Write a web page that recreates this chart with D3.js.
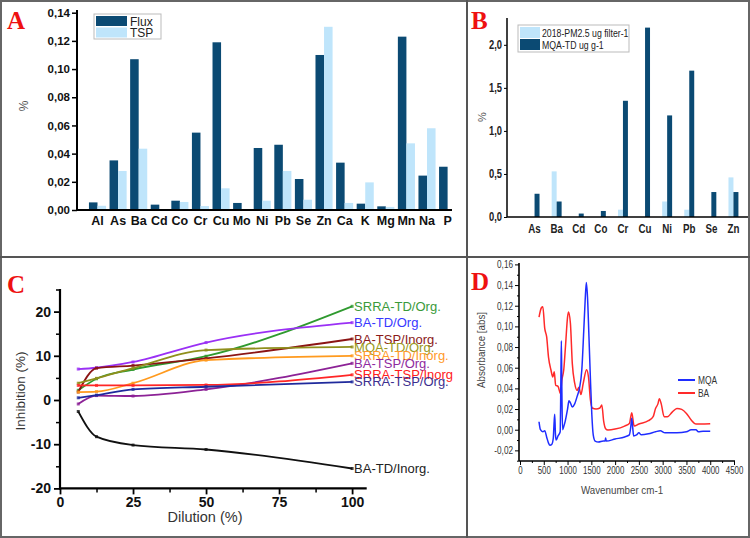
<!DOCTYPE html>
<html><head><meta charset="utf-8">
<script src="https://cdn.jsdelivr.net/npm/d3@7"></script>
<style>body{margin:0;background:#fff}svg{display:block}</style>
</head><body>
<svg id="c" width="750" height="538"></svg>
<script>
// ---------- Panel A data ----------
const catsA = ["Al","As","Ba","Cd","Co","Cr","Cu","Mo","Ni","Pb","Se","Zn","Ca","K","Mg","Mn","Na","P"];
const fluxA = [0.0054,0.0352,0.107,0.0038,0.0066,0.0549,0.119,0.005,0.044,0.0463,0.022,0.110,0.0336,0.0045,0.0026,0.123,0.0244,0.0307];
const tspA  = [0.003,0.0277,0.0435,0,0.0057,0.0028,0.0154,0,0.0066,0.0277,0.0073,0.130,0.005,0.0196,0.0022,0.0473,0.058,0];
const ticksA = [0,0.02,0.04,0.06,0.08,0.10,0.12,0.14];
const legendA = ["Flux","TSP"];
// ---------- Panel B data ----------
const catsB = ["As","Ba","Cd","Co","Cr","Cu","Ni","Pb","Se","Zn"];
const pm25B = [0,0.53,0,0,0.085,0,0.18,0.085,0,0.46];
const mqaB  = [0.27,0.18,0.04,0.07,1.35,2.2,1.18,1.70,0.29,0.29];
const ticksB = [0,0.5,1.0,1.5,2.0];
const legendB = ["2018-PM2.5 ug filter-1","MQA-TD ug g-1"];
// ---------- Panel C data ----------
const dilution = [6.25,12.5,25,50,100];
const seriesNamesC = ["SRRA-TD/Org.","BA-TD/Org.","BA-TSP/Inorg.","MQA-TD/Org.","SRRA-TD/Inorg.","BA-TSP/Org.","SRRA-TSP/Inorg","SRRA-TSP/Org.","BA-TD/Inorg."];
const srraTdOrg   = [2.2,4.8,6.9,9.9,21.2];
const baTdOrg     = [7.0,7.3,8.6,13.0,17.5];
const baTspInorg  = [1.8,7.2,7.8,9.4,13.8];
const mqaTdOrg    = [3.8,4.9,7.2,11.3,12.0];
const srraTdInorg = [1.8,1.9,3.8,9.0,10.0];
const baTspOrg    = [-0.9,1.0,0.9,2.4,8.3];
const srraTspInorg= [3.3,3.3,3.3,3.4,5.7];
const srraTspOrg  = [0.5,1.1,2.4,3.0,4.1];
const baTdInorg   = [-2.6,-8.3,-10.2,-11.2,-15.5];
const ticksCx = [0,25,50,75,100];
const ticksCy = [-20,-10,0,10,20];
// ---------- Panel D data ----------
const wnMQA = [400,430,480,520,560,600,630,670,700,715,730,745,760,800,845,860,870,880,895,920,950,1000,1030,1060,1100,1150,1200,1250,1300,1340,1370,1395,1420,1450,1480,1510,1540,1580,1650,1750,1790,1800,1815,2000,2200,2300,2330,2350,2370,2390,2450,2500,2550,2700,2850,2950,3050,3300,3500,3600,3700,3750,3850,4000];
const absMQA = [0.0077,0.000,-0.002,-0.001,-0.007,-0.013,-0.015,-0.014,-0.008,0.005,0.015,-0.004,-0.010,-0.006,-0.002,0.050,0.086,0.040,0.000,0.003,0.008,0.020,0.028,0.026,0.022,0.025,0.032,0.040,0.058,0.095,0.125,0.1426,0.128,0.090,0.050,0.015,-0.005,-0.011,-0.012,-0.011,-0.011,-0.008,-0.011,-0.009,-0.007,-0.005,0.003,0.011,0.002,-0.006,-0.005,-0.003,-0.005,-0.004,-0.002,-0.001,-0.003,-0.003,-0.002,0.000,0.000,-0.002,-0.0015,-0.0015];
const wnBA = [400,450,480,520,560,600,650,690,720,750,800,850,880,920,960,1000,1020,1060,1100,1150,1200,1240,1280,1330,1400,1440,1480,1520,1600,1680,1720,1760,1800,1850,2000,2200,2300,2350,2400,2500,2700,2800,2850,2900,2930,2970,3030,3100,3200,3300,3400,3500,3600,3700,3800,4000];
const absBA = [0.109,0.118,0.119,0.098,0.090,0.070,0.058,0.051,0.056,0.043,0.042,0.035,0.048,0.058,0.083,0.109,0.114,0.103,0.064,0.045,0.038,0.041,0.034,0.045,0.058,0.051,0.029,0.021,0.020,0.021,0.024,0.008,0.001,-0.0003,0.0006,0.0035,0.006,0.0165,0.0035,0.0055,0.0087,0.0126,0.0206,0.025,0.030,0.025,0.0126,0.0126,0.017,0.0206,0.0197,0.0158,0.0094,0.0055,0.0055,0.0058];
const ticksDx = [0,500,1000,1500,2000,2500,3000,3500,4000,4500];
const ticksDy = [-0.02,0,0.02,0.04,0.06,0.08,0.10,0.12,0.14,0.16];
const legendD = ["MQA","BA"];

const comma = f => v => d3.format(f)(v).replace(".", ",").replace("\u2212","-");
const svg = d3.select("#c");
svg.append("rect").attr("width",750).attr("height",538).attr("fill","#fff");

const DARK = "#0b4a73", LIGHT = "#bfe5fb";
const SANS = "Arial, 'Liberation Sans', sans-serif";
function condense(sel, f){
  sel.each(function(){
    const L = this.getComputedTextLength();
    if (L > 0) d3.select(this).attr("textLength", L*f).attr("lengthAdjust","spacingAndGlyphs");
  });
}

// =============== PANEL A ===============
{
  const g = svg.append("g");
  const x = d3.scaleBand().domain(catsA).range([87.2,457.9]).paddingInner(0.17).paddingOuter(0.085);
  const xi = d3.scaleBand().domain(["f","t"]).range([0,x.bandwidth()]);
  const y = d3.scaleLinear().domain([0,0.14]).range([210,12.7]);
  const rows = catsA.map((c,i)=>({c,f:fluxA[i],t:tspA[i]}));
  g.selectAll(".bf").data(rows).join("rect").attr("x",d=>x(d.c)+xi("f")).attr("width",xi.bandwidth())
    .attr("y",d=>y(d.f)).attr("height",d=>y(0)-y(d.f)).attr("fill",DARK);
  g.selectAll(".bt").data(rows).join("rect").attr("x",d=>x(d.c)+xi("t")).attr("width",xi.bandwidth())
    .attr("y",d=>y(d.t)).attr("height",d=>y(0)-y(d.t)).attr("fill",LIGHT);
  const ya = g.append("g").attr("transform","translate(77,0)")
    .call(d3.axisLeft(y).tickValues(ticksA).tickFormat(comma(".2f")).tickSize(5).tickPadding(2));
  ya.select(".domain").attr("stroke-width",2).attr("d","M0,210V10");
  ya.selectAll(".tick line").attr("stroke-width",1.5);
  ya.selectAll("text").attr("font-family",SANS).attr("font-weight","bold").attr("font-size",11.5).attr("fill","#111");
  const xa = g.append("g").attr("transform","translate(0,210)").call(d3.axisBottom(x).tickSize(0).tickPadding(6));
  xa.select(".domain").remove();
  xa.selectAll("text").attr("font-family",SANS).attr("font-weight","bold").attr("font-size",12.5).attr("fill","#111");
  g.append("line").attr("x1",77).attr("x2",452).attr("y1",210).attr("y2",210).attr("stroke","#000").attr("stroke-width",2);
  g.append("text").attr("transform","translate(28,106) rotate(-90)").attr("text-anchor","middle")
    .attr("font-family",SANS).attr("font-size",12).attr("fill","#555").text("%");
  const lg = g.append("g");
  lg.append("rect").attr("x",94).attr("y",14).attr("width",67).attr("height",25).attr("fill","#fff").attr("stroke","#bbb");
  [DARK,LIGHT].forEach((col,i)=>{
    lg.append("rect").attr("x",96).attr("y",16+i*11.5).attr("width",31).attr("height",10).attr("fill",col);
    lg.append("text").attr("x",130).attr("y",25.5+i*11.5).attr("font-family",SANS).attr("font-size",12).attr("fill","#222").text(legendA[i]);
  });
  g.append("text").attr("x",7).attr("y",29).attr("font-family","'Liberation Serif','Times New Roman',serif").attr("font-weight","bold").attr("font-size",25).attr("fill","#ee1111").text("A");
}

// =============== PANEL B ===============
{
  const g = svg.append("g");
  const x = d3.scaleBand().domain(catsB).range([523.5,744.5]).paddingInner(0.55).paddingOuter(0.275);
  const xi = d3.scaleBand().domain(["p","m"]).range([0,x.bandwidth()]);
  const y = d3.scaleLinear().domain([0,2.3]).range([217,19]);
  const rows = catsB.map((c,i)=>({c,p:pm25B[i],m:mqaB[i]}));
  g.selectAll(".bp").data(rows).join("rect").attr("x",d=>x(d.c)+xi("p")).attr("width",xi.bandwidth())
    .attr("y",d=>y(d.p)).attr("height",d=>y(0)-y(d.p)).attr("fill",LIGHT);
  g.selectAll(".bm").data(rows).join("rect").attr("x",d=>x(d.c)+xi("m")).attr("width",xi.bandwidth())
    .attr("y",d=>y(d.m)).attr("height",d=>y(0)-y(d.m)).attr("fill",DARK);
  const ya = g.append("g").attr("transform","translate(507,0)")
    .call(d3.axisLeft(y).tickValues(ticksB).tickFormat(comma(".1f")).tickSize(3).tickPadding(2));
  ya.select(".domain").attr("stroke-width",1.5).attr("d","M0,217V18");
  ya.selectAll("text").attr("font-family",SANS).attr("font-weight","bold").attr("font-size",12).attr("fill","#222");
  condense(ya.selectAll("text"), 0.78);
  const xa = g.append("g").attr("transform","translate(0,217)").call(d3.axisBottom(x).tickSize(0).tickPadding(7));
  xa.select(".domain").remove();
  xa.selectAll("text").attr("font-family",SANS).attr("font-weight","bold").attr("font-size",12.5).attr("fill","#222");
  condense(xa.selectAll("text"), 0.78);
  g.append("line").attr("x1",507).attr("x2",750).attr("y1",217).attr("y2",217).attr("stroke","#000").attr("stroke-width",1.5);
  g.append("text").attr("transform","translate(486,117) rotate(-90)").attr("text-anchor","middle")
    .attr("font-family",SANS).attr("font-size",11).attr("fill","#555").text("%");
  const lg = g.append("g");
  lg.append("rect").attr("x",518).attr("y",25).attr("width",111).attr("height",27).attr("fill","#fff").attr("stroke","#bbb");
  [LIGHT,DARK].forEach((col,i)=>{
    lg.append("rect").attr("x",520).attr("y",27+i*12).attr("width",20).attr("height",11).attr("fill",col);
    const t = lg.append("text").attr("x",542).attr("y",37+i*12).attr("font-family",SANS).attr("font-size",11.5).attr("fill","#222").text(legendB[i]);
    condense(t, 0.76);
  });
  g.append("text").attr("x",471).attr("y",29).attr("font-family","'Liberation Serif','Times New Roman',serif").attr("font-weight","bold").attr("font-size",25).attr("fill","#ee1111").text("B");
}

// =============== PANEL C ===============
{
  const g = svg.append("g");
  const x = d3.scaleLinear().domain([0,105]).range([60,366.7]);
  const y = d3.scaleLinear().domain([-20,25]).range([488.4,289.5]);
  const vals = [srraTdOrg,baTdOrg,baTspInorg,mqaTdOrg,srraTdInorg,baTspOrg,srraTspInorg,srraTspOrg,baTdInorg];
  const lineCols  = ["#2f9a2f","#9a30f5","#8b1414","#8f8f1c","#ff9a1e","#8c2296","#ff2626","#1f2a9c","#111111"];
  const labelCols = ["#3a9a3a","#3838ff","#8b1a1a","#9a9a22","#ff9a2a","#8f2aa0","#ff2020","#3c2f8f","#222222"];
  const line = d3.line().x((d,i)=>x(dilution[i])).y(d=>y(d)).curve(d3.curveMonotoneX);
  const yminor = g.append("g").attr("transform","translate(60,0)").call(d3.axisLeft(y).tickValues([-15,-5,5,15,25]).tickSize(4).tickFormat(""));
  yminor.select(".domain").remove(); yminor.selectAll("line").attr("stroke-width",1.5);
  const xminor = g.append("g").attr("transform","translate(0,488.4)").call(d3.axisBottom(x).tickValues([12.5,37.5,62.5,87.5]).tickSize(4).tickFormat(""));
  xminor.select(".domain").remove(); xminor.selectAll("line").attr("stroke-width",1.5);
  const ya = g.append("g").attr("transform","translate(60,0)").call(d3.axisLeft(y).tickValues(ticksCy).tickSize(6).tickPadding(3));
  ya.select(".domain").attr("stroke-width",2.2).attr("d","M0,489.5V289");
  ya.selectAll(".tick line").attr("stroke-width",1.8);
  ya.selectAll("text").attr("font-family",SANS).attr("font-weight","bold").attr("font-size",14).attr("fill","#111").text(d=>d3.format("d")(d).replace("\u2212","-"));
  const xa = g.append("g").attr("transform","translate(0,488.4)").call(d3.axisBottom(x).tickValues(ticksCx).tickSize(6).tickPadding(3));
  xa.select(".domain").attr("stroke-width",2.2).attr("d","M59,0H366.7");
  xa.selectAll(".tick line").attr("stroke-width",1.8);
  xa.selectAll("text").attr("font-family",SANS).attr("font-weight","bold").attr("font-size",14).attr("fill","#111");
  vals.forEach((v,k)=>{
    g.append("path").datum(v).attr("d",line).attr("fill","none").attr("stroke",lineCols[k]).attr("stroke-width",1.8);
    g.selectAll(null).data(v).join("rect").attr("x",(d,i)=>x(dilution[i])-1.5).attr("y",d=>y(d)-1.5)
      .attr("width",3).attr("height",3).attr("fill",lineCols[k]).attr("opacity",0.8);
  });
  vals.forEach((v,k)=>{
    g.append("text").attr("x",x(100)+2).attr("y",y(v[v.length-1])).attr("dy","0.35em")
      .attr("font-family",SANS).attr("font-size",13).attr("fill",labelCols[k]).text(seriesNamesC[k]);
  });
  g.append("text").attr("transform","translate(25,391) rotate(-90)").attr("text-anchor","middle")
    .attr("font-family",SANS).attr("font-size",13.5).attr("fill","#333").text("Inhibition (%)");
  g.append("text").attr("x",205).attr("y",522).attr("text-anchor","middle")
    .attr("font-family",SANS).attr("font-size",14.5).attr("fill","#333").text("Dilution (%)");
  g.append("text").attr("x",7).attr("y",293).attr("font-family","'Liberation Serif','Times New Roman',serif").attr("font-weight","bold").attr("font-size",25).attr("fill","#ee1111").text("C");
}

// =============== PANEL D ===============
{
  const g = svg.append("g");
  const x = d3.scaleLinear().domain([0,4500]).range([520,734]);
  const y = d3.scaleLinear().domain([-0.03,0.16]).range([460.7,264.4]);
  const ymin = g.append("g").attr("transform","translate(519,0)").call(d3.axisLeft(y).tickValues(d3.range(-0.03,0.165,0.02)).tickSize(2).tickFormat(""));
  ymin.select(".domain").remove();
  const xmin = g.append("g").attr("transform","translate(0,461)").call(d3.axisBottom(x).tickValues(d3.range(250,4500,500)).tickSize(2).tickFormat(""));
  xmin.select(".domain").remove();
  const ya = g.append("g").attr("transform","translate(519,0)").call(d3.axisLeft(y).tickValues(ticksDy).tickFormat(comma(".2f")).tickSize(4).tickPadding(2));
  ya.select(".domain").attr("stroke-width",1.6).attr("d","M0,461V263");
  ya.selectAll("text").attr("font-family",SANS).attr("font-size",10.5).attr("fill","#333");
  condense(ya.selectAll("text"), 0.78);
  const xa = g.append("g").attr("transform","translate(0,461)").call(d3.axisBottom(x).tickValues(ticksDx).tickFormat(d3.format("d")).tickSize(4).tickPadding(2));
  xa.select(".domain").attr("stroke-width",1.6).attr("d","M519,0H735");
  xa.selectAll("text").attr("font-family",SANS).attr("font-size",10.5).attr("fill","#333");
  condense(xa.selectAll("text"), 0.75);
  const mk = (wn,ab)=>d3.line().x((d,i)=>x(wn[i])).y(d=>y(d)).curve(d3.curveMonotoneX)(ab);
  g.append("path").attr("d",mk(wnBA,absBA)).attr("fill","none").attr("stroke","#ff2a2a").attr("stroke-width",1.5);
  g.append("path").attr("d",mk(wnMQA,absMQA)).attr("fill","none").attr("stroke","#1f2dff").attr("stroke-width",1.5);
  ["#1f2dff","#ff2a2a"].forEach((col,i)=>{
    g.append("line").attr("x1",678).attr("x2",695).attr("y1",380+i*13).attr("y2",380+i*13).attr("stroke",col).attr("stroke-width",2);
    const t = g.append("text").attr("x",698).attr("y",380+i*13).attr("dy","0.35em").attr("font-family",SANS).attr("font-size",10.5).attr("fill","#333").text(legendD[i]);
    condense(t, 0.8);
  });
  const yl = g.append("text").attr("transform","translate(485,350) rotate(-90)").attr("text-anchor","middle")
    .attr("font-family",SANS).attr("font-size",11.5).attr("fill","#444").text("Absorbance [abs]");
  condense(yl, 0.85);
  const xl = g.append("text").attr("x",622).attr("y",494).attr("text-anchor","middle")
    .attr("font-family",SANS).attr("font-size",11.5).attr("fill","#444").text("Wavenumber cm-1");
  condense(xl, 0.85);
  g.append("text").attr("x",471).attr("y",290).attr("font-family","'Liberation Serif','Times New Roman',serif").attr("font-weight","bold").attr("font-size",25).attr("fill","#ee1111").text("D");
}

svg.append("rect").attr("x",1).attr("y",1).attr("width",748).attr("height",536).attr("fill","none").attr("stroke","#666").attr("stroke-width",2);
svg.append("line").attr("x1",467).attr("x2",467).attr("y1",0).attr("y2",538).attr("stroke","#555").attr("stroke-width",2);
svg.append("line").attr("x1",0).attr("x2",750).attr("y1",257).attr("y2",257).attr("stroke","#555").attr("stroke-width",2);
</script>
</body></html>
